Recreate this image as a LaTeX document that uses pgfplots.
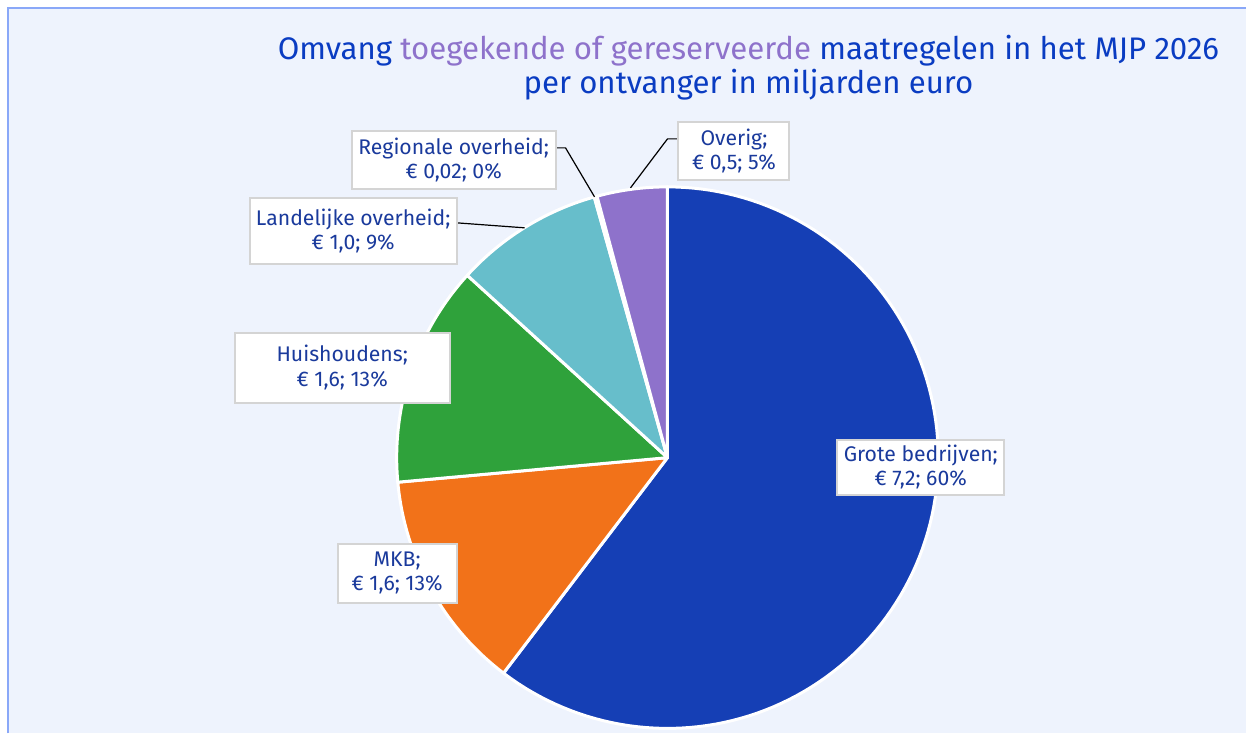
\documentclass[border=0pt]{standalone}
\usepackage{pgfplots}
\pgfplotsset{compat=1.18}
\usepackage{pgfplotstable}
\usepackage{fontspec}
\setmainfont{Fira Sans}
\definecolor{cBlue}{HTML}{153FB5}
\definecolor{cOrange}{HTML}{F27219}
\definecolor{cGreen}{HTML}{2FA23B}
\definecolor{cCyan}{HTML}{67BECB}
\definecolor{cPurple}{HTML}{8E72CB}
\definecolor{cBg}{HTML}{EEF3FD}
\definecolor{cFrame}{HTML}{8AA8F8}
\definecolor{cTitle}{HTML}{0A3CC2}
\definecolor{cLabel}{HTML}{1A3A9C}
\definecolor{cBox}{HTML}{D4D4D4}

\pgfplotstableread{
name value
Grote 7.2
MKB 1.575
Huishoudens 1.575
Landelijk 1.06
Regionaal 0.02
Overig 0.5
}\piedata
\pgfplotstablegetelem{0}{value}\of\piedata \let\vA\pgfplotsretval
\pgfplotstablegetelem{1}{value}\of\piedata \let\vB\pgfplotsretval
\pgfplotstablegetelem{2}{value}\of\piedata \let\vC\pgfplotsretval
\pgfplotstablegetelem{3}{value}\of\piedata \let\vD\pgfplotsretval
\pgfplotstablegetelem{4}{value}\of\piedata \let\vE\pgfplotsretval
\pgfplotstablegetelem{5}{value}\of\piedata \let\vF\pgfplotsretval
\pgfmathsetmacro\tot{\vA+\vB+\vC+\vD+\vE+\vF}
\pgfmathsetmacro\aA{360*\vA/\tot}
\pgfmathsetmacro\aB{\aA+360*\vB/\tot}
\pgfmathsetmacro\aC{\aB+360*\vC/\tot}
\pgfmathsetmacro\aD{\aC+360*\vD/\tot}
\pgfmathsetmacro\aE{\aD+360*\vE/\tot}

\begin{document}
\begin{tikzpicture}
\begin{axis}[
  width=623.5pt, height=367pt, scale only axis,
  xmin=0, xmax=1247, ymin=0, ymax=734, y dir=reverse,
  hide axis, clip=false,
  every axis plot/.append style={draw=white, line width=1.5pt, line join=round, samples=120, variable=\t},
]
\fill[white] (axis cs:0,0) rectangle (axis cs:1247,734);
\fill[cBg] (axis cs:8,8) rectangle (axis cs:1247,734);
\draw[cFrame, line width=1pt] (axis cs:8,734) -- (axis cs:8,8) -- (axis cs:1247,8);

\addplot[fill=cBlue, domain=0:\aA] ({668+271*sin(t)},{458-271*cos(t)}) -- (axis cs:668,458) -- cycle;
\addplot[fill=cOrange, domain=\aA:\aB] ({668+271*sin(t)},{458-271*cos(t)}) -- (axis cs:668,458) -- cycle;
\addplot[fill=cGreen, domain=\aB:\aC] ({668+271*sin(t)},{458-271*cos(t)}) -- (axis cs:668,458) -- cycle;
\addplot[fill=cCyan, domain=\aC:\aD] ({668+271*sin(t)},{458-271*cos(t)}) -- (axis cs:668,458) -- cycle;
\addplot[fill=white, domain=\aD:\aE] ({668+271*sin(t)},{458-271*cos(t)}) -- (axis cs:668,458) -- cycle;
\addplot[fill=cPurple, domain=\aE:360] ({668+271*sin(t)},{458-271*cos(t)}) -- (axis cs:668,458) -- cycle;

\node[font=\fontsize{15.6}{17}\selectfont, text=cTitle, align=center] at (axis cs:749,68)
  {Omvang \textcolor{cPurple}{toegekende of gereserveerde} maatregelen in het MJP 2026\\per ontvanger in miljarden euro};

\draw[black, line width=0.6pt] (axis cs:556,148) -- (axis cs:566,148) -- (axis cs:595,197);
\draw[black, line width=0.6pt] (axis cs:679,139) -- (axis cs:668,139) -- (axis cs:631,188);
\draw[black, line width=0.6pt] (axis cs:457,223) -- (axis cs:525,228);

\tikzset{lab/.style={draw=cBox, line width=1pt, fill=white, text=cLabel, align=center,
  font=\fontsize{10.6}{12.3}\selectfont, inner sep=0pt}}
\node[lab, minimum width=102pt, minimum height=29pt] at (axis cs:454,160) {Regionale overheid;\\€ 0,02; 0\%};
\node[lab, minimum width=55.5pt, minimum height=29pt] at (axis cs:734.5,151) {Overig;\\€ 0,5; 5\%};
\node[lab, minimum width=103.5pt, minimum height=33pt] at (axis cs:353.5,231) {Landelijke overheid;\\€ 1,0; 9\%};
\node[lab, minimum width=107.5pt, minimum height=35pt] at (axis cs:342.5,368) {Huishoudens;\\€ 1,6; 13\%};
\node[lab, minimum width=59.5pt, minimum height=29.5pt] at (axis cs:397.5,573.5) {MKB;\\€ 1,6; 13\%};
\node[lab, minimum width=83.5pt, minimum height=27.5pt] at (axis cs:921.5,467.5) {Grote bedrijven;\\€ 7,2; 60\%};
\end{axis}
\end{tikzpicture}
\end{document}
